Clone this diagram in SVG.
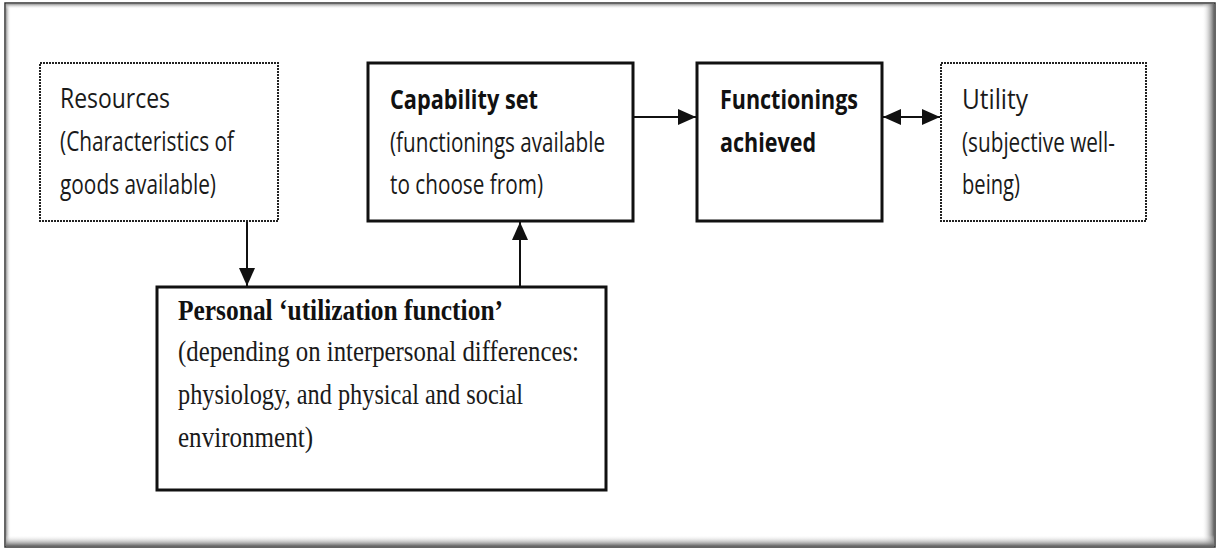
<svg xmlns="http://www.w3.org/2000/svg" width="1219" height="550" viewBox="0 0 1219 550">
  <style>
    .solid { fill: #fff; stroke: #111; stroke-width: 3; }
    .dotted { fill: #fff; stroke: #222; stroke-width: 2; stroke-dasharray: 2 1; }
    .sans { font-family: "Open Sans", "Noto Sans", "Liberation Sans", sans-serif; font-size: 27px; fill: #1a1a1a; }
    .sansb { font-family: "Open Sans", "Noto Sans", "Liberation Sans", sans-serif; font-size: 27px; font-weight: bold; fill: #111; }
    .serif { font-family: "Liberation Serif", "Times New Roman", serif; font-size: 30px; fill: #1a1a1a; }
    .serifb { font-family: "Liberation Serif", "Times New Roman", serif; font-size: 30px; font-weight: bold; fill: #111; }
    .conn { stroke: #111; stroke-width: 2; fill: none; }
  </style>
  <defs>
    <marker id="arrow" viewBox="0 0 18 16" refX="18" refY="8" markerWidth="18" markerHeight="16" markerUnits="userSpaceOnUse" orient="auto-start-reverse">
      <path d="M0,0 L18,8 L0,16 z" fill="#111"/>
    </marker>
    <linearGradient id="shR" x1="0" y1="0" x2="1" y2="0">
      <stop offset="0" stop-color="#fff" stop-opacity="0"/>
      <stop offset="1" stop-color="#666"/>
    </linearGradient>
    <linearGradient id="shB" x1="0" y1="0" x2="0" y2="1">
      <stop offset="0" stop-color="#fff" stop-opacity="0"/>
      <stop offset="1" stop-color="#666"/>
    </linearGradient>
    <linearGradient id="shL" x1="1" y1="0" x2="0" y2="0">
      <stop offset="0" stop-color="#fff" stop-opacity="0"/>
      <stop offset="1" stop-color="#999"/>
    </linearGradient>
    <linearGradient id="shT" x1="0" y1="1" x2="0" y2="0">
      <stop offset="0" stop-color="#fff" stop-opacity="0"/>
      <stop offset="1" stop-color="#999"/>
    </linearGradient>
  </defs>

  <rect x="0" y="0" width="1219" height="550" fill="#fff"/>

  <g id="frame">
    <rect x="5" y="3" width="1210" height="544" fill="#fff"/>
    <rect x="6" y="4" width="5" height="542" fill="url(#shL)"/>
    <rect x="6" y="4" width="1208" height="5" fill="url(#shT)"/>
    <rect x="1202" y="4" width="12" height="542" fill="url(#shR)"/>
    <rect x="6" y="535" width="1208" height="11" fill="url(#shB)"/>
    <rect x="5" y="3" width="1210" height="544" fill="none" stroke="#333" stroke-width="1.5"/>
  </g>

  <g id="connectors">
    <line class="conn" x1="247" y1="222" x2="247" y2="286" marker-end="url(#arrow)"/>
    <line class="conn" x1="520" y1="286" x2="520" y2="222" marker-end="url(#arrow)"/>
    <line class="conn" x1="633" y1="117" x2="696" y2="117" marker-end="url(#arrow)"/>
    <line class="conn" x1="883" y1="117" x2="940" y2="117" marker-start="url(#arrow)" marker-end="url(#arrow)"/>
  </g>

  <g id="resources">
    <rect class="dotted" x="40" y="63" width="238" height="158"/>
    <text class="sans" x="60" y="108" textLength="110" lengthAdjust="spacingAndGlyphs">Resources</text>
    <text class="sans" x="60" y="151" textLength="174" lengthAdjust="spacingAndGlyphs">(Characteristics of</text>
    <text class="sans" x="60" y="194" textLength="156" lengthAdjust="spacingAndGlyphs">goods available)</text>
  </g>

  <g id="capability">
    <rect class="solid" x="368" y="63" width="265" height="158"/>
    <text class="sansb" x="390" y="109" textLength="148" lengthAdjust="spacingAndGlyphs">Capability set</text>
    <text class="sans" x="390" y="152" textLength="215" lengthAdjust="spacingAndGlyphs">(functionings available</text>
    <text class="sans" x="390" y="194" textLength="153" lengthAdjust="spacingAndGlyphs">to choose from)</text>
  </g>

  <g id="functionings">
    <rect class="solid" x="697" y="63" width="185" height="158"/>
    <text class="sansb" x="720" y="109" textLength="138" lengthAdjust="spacingAndGlyphs">Functionings</text>
    <text class="sansb" x="720" y="152" textLength="96" lengthAdjust="spacingAndGlyphs">achieved</text>
  </g>

  <g id="utility">
    <rect class="dotted" x="941" y="63" width="205" height="158"/>
    <text class="sans" x="962" y="109" textLength="66" lengthAdjust="spacingAndGlyphs">Utility</text>
    <text class="sans" x="962" y="152" textLength="153" lengthAdjust="spacingAndGlyphs">(subjective well-</text>
    <text class="sans" x="962" y="194" textLength="58" lengthAdjust="spacingAndGlyphs">being)</text>
  </g>

  <g id="personal">
    <rect class="solid" x="157" y="287" width="449" height="203"/>
    <text class="serifb" x="178" y="320" textLength="325" lengthAdjust="spacingAndGlyphs">Personal ‘utilization function’</text>
    <text class="serif" x="178" y="361" textLength="401" lengthAdjust="spacingAndGlyphs">(depending on interpersonal differences:</text>
    <text class="serif" x="178" y="404" textLength="345" lengthAdjust="spacingAndGlyphs">physiology, and physical and social</text>
    <text class="serif" x="178" y="447" textLength="135" lengthAdjust="spacingAndGlyphs">environment)</text>
  </g>
</svg>
